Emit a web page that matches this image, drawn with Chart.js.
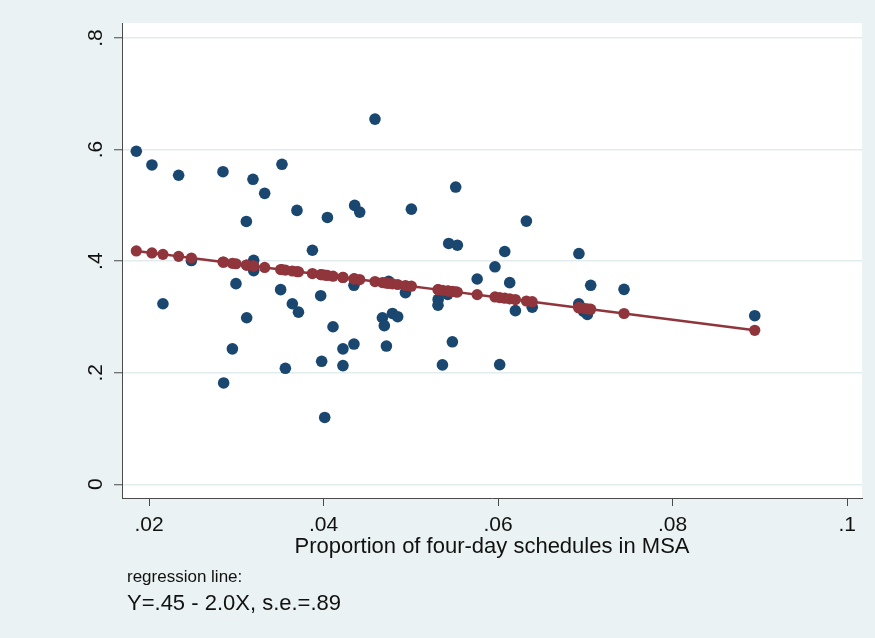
<!DOCTYPE html>
<html>
<head>
<meta charset="utf-8">
<script src="https://cdn.jsdelivr.net/npm/chart.js@4/dist/chart.umd.min.js"></script>
<style>
  html, body { margin: 0; padding: 0; background: #ffffff; }
  #wrap { width: 875px; height: 638px; }
  canvas { display: block; }
</style>
</head>
<body>
<div id="wrap"><canvas id="c" width="875" height="638"></canvas></div>
<script>
// Proportion of four-day schedules in MSA (x)
const xValues = [
  0.01854, 0.02033, 0.02159, 0.02339, 0.02485, 0.02847, 0.02855, 0.02955, 0.02996, 0.03115,
  0.03119, 0.03191, 0.03199, 0.03199, 0.03325, 0.03508, 0.03523, 0.03562, 0.03642, 0.03695,
  0.03712, 0.03872, 0.03967, 0.03978, 0.04013, 0.04044, 0.04108, 0.04222, 0.04222, 0.04348,
  0.04348, 0.04356, 0.04414, 0.04589, 0.04674, 0.04696, 0.04720, 0.04746, 0.04789, 0.04849,
  0.04938, 0.05006, 0.05311, 0.05313, 0.05362, 0.05422, 0.05434, 0.05476, 0.05514, 0.05533,
  0.05760, 0.05964, 0.06018, 0.06076, 0.06133, 0.06198, 0.06324, 0.06391, 0.06924, 0.06926,
  0.06981, 0.07023, 0.07061, 0.07443, 0.08941
];
// Observed values (navy dots)
const yObserved = [
  0.5971, 0.5725, 0.3237, 0.5540, 0.4011, 0.5604, 0.1817, 0.2428, 0.3597, 0.4712,
  0.2986, 0.5468, 0.4016, 0.3831, 0.5216, 0.3489, 0.5737, 0.2079, 0.3237, 0.4910,
  0.3086, 0.4196, 0.3381, 0.2205, 0.1198, 0.4784, 0.2824, 0.2428, 0.2128, 0.3567,
  0.2514, 0.5000, 0.4880, 0.6547, 0.2986, 0.2844, 0.2478, 0.3639, 0.3063, 0.3004,
  0.3435, 0.4933, 0.3210, 0.3315, 0.2140, 0.3405, 0.4318, 0.2554, 0.5329, 0.4286,
  0.3680, 0.3899, 0.2146, 0.4173, 0.3615, 0.3113, 0.4718, 0.3176, 0.3234, 0.4137,
  0.3099, 0.3045, 0.3567, 0.3495, 0.3022
];
// Fitted values on the regression line (maroon dots)
const yFitted = [
  0.4183, 0.4147, 0.4122, 0.4086, 0.4057, 0.3984, 0.3982, 0.3962, 0.3954, 0.3930,
  0.3929, 0.3915, 0.3913, 0.3913, 0.3888, 0.3851, 0.3848, 0.3841, 0.3824, 0.3814,
  0.3810, 0.3778, 0.3759, 0.3757, 0.3750, 0.3744, 0.3731, 0.3708, 0.3708, 0.3683,
  0.3683, 0.3681, 0.3670, 0.3634, 0.3617, 0.3613, 0.3608, 0.3603, 0.3594, 0.3582,
  0.3564, 0.3551, 0.3490, 0.3489, 0.3479, 0.3467, 0.3465, 0.3457, 0.3449, 0.3445,
  0.3400, 0.3359, 0.3348, 0.3336, 0.3325, 0.3312, 0.3286, 0.3273, 0.3166, 0.3166,
  0.3155, 0.3146, 0.3139, 0.3062, 0.2761
];
const xTickValues = [0.02, 0.04, 0.06, 0.08, 0.10];
const yTickValues = [0, 0.2, 0.4, 0.6, 0.8];
const xTitle = 'Proportion of four-day schedules in MSA';
const noteLines = ['regression line:', 'Y=.45 - 2.0X, s.e.=.89'];

const BG = '#eaf2f3';
const NAVY = '#1a476f';
const MAROON = '#90353b';
const AXIS = '#4a4a4a';
const FONT = '"Liberation Sans", Arial, Helvetica, sans-serif';

function fmt(v) {
  const s = String(Number(v.toFixed(3)));
  return s.replace(/^0\./, '.').replace(/^-0\./, '-.');
}

const observedPts = xValues.map((x, i) => ({x: x, y: yObserved[i]}));
const fittedPts = xValues.map((x, i) => ({x: x, y: yFitted[i]}));

const bgPlugin = {
  id: 'bg',
  beforeDraw(chart) {
    const {ctx, chartArea: a} = chart;
    ctx.save();
    ctx.fillStyle = BG;
    ctx.fillRect(0, 0, chart.width, chart.height);
    ctx.fillStyle = '#ffffff';
    ctx.fillRect(a.left, a.top, a.right - a.left, a.bottom - a.top);
    ctx.restore();
  }
};

const notePlugin = {
  id: 'note',
  afterDraw(chart) {
    const ctx = chart.ctx;
    ctx.save();
    ctx.fillStyle = '#111111';
    ctx.textAlign = 'left';
    ctx.textBaseline = 'alphabetic';
    ctx.font = '17px ' + FONT;
    ctx.fillText(noteLines[0], 127, 582);
    ctx.font = '22px ' + FONT;
    ctx.fillText(noteLines[1], 127, 610);
    ctx.restore();
  }
};

new Chart(document.getElementById('c'), {
  type: 'scatter',
  data: {
    datasets: [
      {
        label: 'Fitted values',
        data: fittedPts,
        showLine: true,
        borderColor: MAROON,
        borderWidth: 2.5,
        backgroundColor: MAROON,
        pointBackgroundColor: MAROON,
        pointBorderWidth: 0,
        pointRadius: 5.6,
        order: 0
      },
      {
        label: 'Observed',
        data: observedPts,
        showLine: false,
        backgroundColor: NAVY,
        pointBackgroundColor: NAVY,
        pointBorderWidth: 0,
        pointRadius: 5.8,
        order: 1
      }
    ]
  },
  options: {
    responsive: false,
    devicePixelRatio: 1,
    animation: false,
    layout: { padding: { left: 0, top: 23, right: 13, bottom: 0 } },
    plugins: {
      legend: { display: false },
      tooltip: { enabled: false },
      title: { display: false }
    },
    scales: {
      x: {
        type: 'linear',
        position: 'bottom',
        min: 0.0169,
        max: 0.1017,
        afterBuildTicks(scale) { scale.ticks = xTickValues.map(v => ({value: v})); },
        afterFit(scale) { scale.height = 140; },
        grid: {
          drawOnChartArea: false,
          drawTicks: true,
          tickLength: 8,
          tickColor: AXIS,
          tickWidth: 1
        },
        border: { display: true, color: AXIS, width: 1 },
        ticks: {
          padding: 7,
          color: '#111111',
          font: { family: FONT, size: 21 },
          maxRotation: 0,
          minRotation: 0,
          callback: (v) => fmt(v)
        },
        title: {
          display: true,
          text: xTitle,
          color: '#111111',
          font: { family: FONT, size: 22 },
          padding: { top: 0, bottom: 78 }
        }
      },
      y: {
        type: 'linear',
        position: 'left',
        min: -0.0246,
        max: 0.827,
        afterBuildTicks(scale) { scale.ticks = yTickValues.map(v => ({value: v})); },
        afterFit(scale) { scale.width = 122; },
        grid: {
          drawOnChartArea: true,
          color: '#e3eced',
          lineWidth: 1.5,
          drawTicks: true,
          tickLength: 8,
          tickColor: AXIS,
          tickWidth: 1
        },
        border: { display: true, color: AXIS, width: 1 },
        ticks: {
          padding: 9,
          crossAlign: 'center',
          minRotation: 90,
          maxRotation: 90,
          color: '#111111',
          font: { family: FONT, size: 21 },
          callback: (v) => fmt(v)
        }
      }
    }
  },
  plugins: [bgPlugin, notePlugin]
});
</script>
</body>
</html>
